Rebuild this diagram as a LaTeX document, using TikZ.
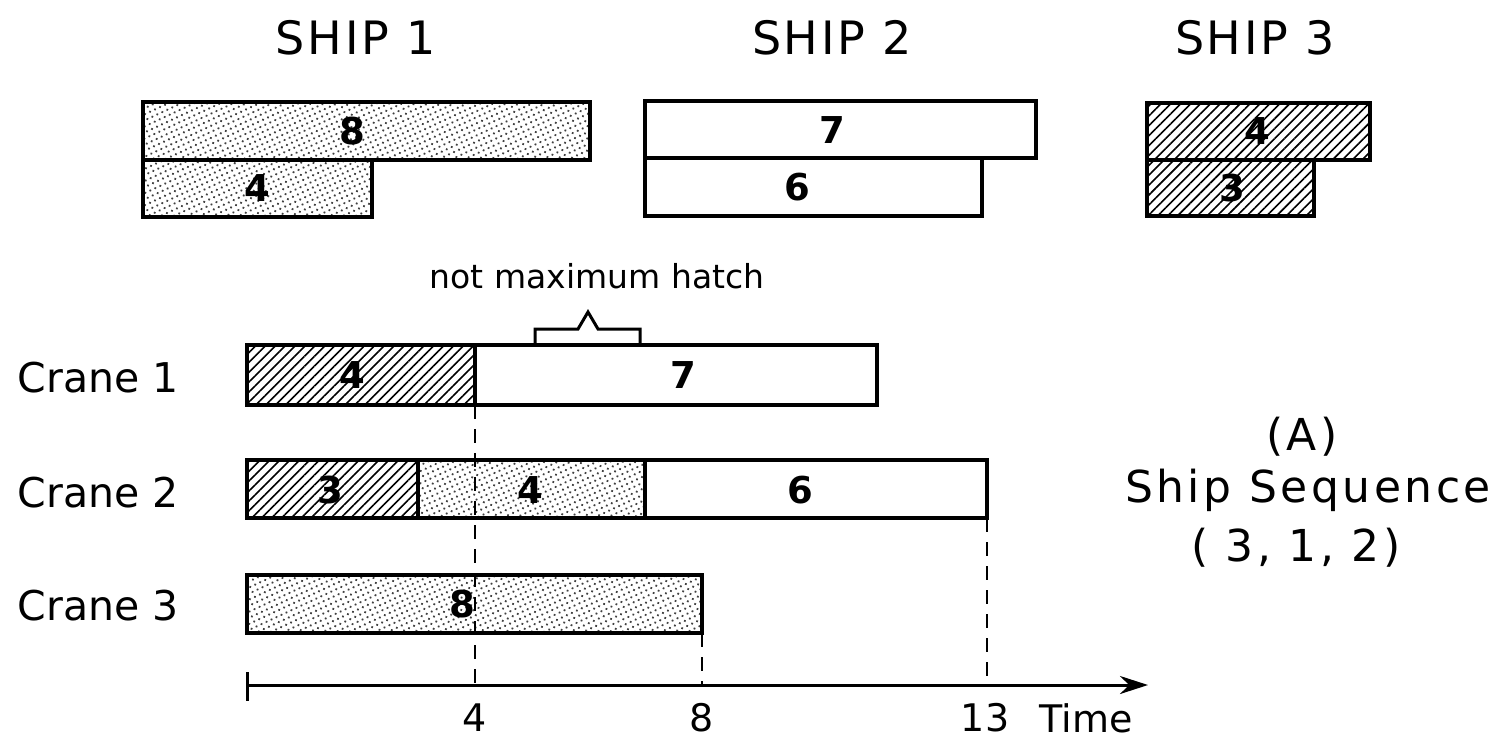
\documentclass[tikz,border=0pt]{standalone}
\usepackage{fontspec}
\setmainfont{DejaVu Sans}
\usetikzlibrary{patterns.meta,arrows.meta}
\newcommand\myfs[1]{\fontsize{#1}{#1}\selectfont}
\begin{document}
\begin{tikzpicture}[x=1pt,y=-1pt,
  box/.style={draw,line width=3.3pt,inner sep=0pt,outer sep=0pt,anchor=north west},
  stipple/.style={pattern={Dots[distance=5.5pt,radius=1.25pt,angle=25]},pattern color=black!75},
  hatched/.style={pattern={Lines[angle=45,distance=7pt,line width=1.6pt]}},
  num/.style={font=\myfs{37}\bfseries},
  title/.style={font=\myfs{46}\addfontfeature{LetterSpace=6}},
  lab/.style={font=\myfs{41},anchor=west},
  big/.style={font=\myfs{44}\addfontfeature{LetterSpace=8}},
  dashln/.style={line width=2.4pt,dash pattern=on 14pt off 10pt},
  axis/.style={line width=3pt}
]
\useasboundingbox (0,0) rectangle (1503,740);
% titles
\node[title] (t1) at (356,38) {SHIP 1};
\node[title] (t2) at (832,38) {SHIP 2};
\node[title] (t3) at (1255,38) {SHIP 3};
% ship 1
\node[box,stipple,minimum width=447pt,minimum height=58pt] (s1a) at (143,102) {};
\node[box,stipple,minimum width=229pt,minimum height=57pt] (s1b) at (143,160) {};
\node[num] (n1a) at (352,131) {8};
\node[num] (n1b) at (257,188) {4};
% ship 2
\node[box,minimum width=391pt,minimum height=57pt] (s2a) at (645,101) {};
\node[box,minimum width=337pt,minimum height=58pt] (s2b) at (645,158) {};
\node[num] (n2a) at (832,130) {7};
\node[num] (n2b) at (797,187) {6};
% ship 3
\node[box,hatched,minimum width=223pt,minimum height=57pt] (s3a) at (1147,103) {};
\node[box,hatched,minimum width=167pt,minimum height=56pt] (s3b) at (1147,160) {};
\node[num] (n3a) at (1257,131) {4};
\node[num] (n3b) at (1232,188) {3};
% crane labels
\node[lab] (cr1) at (14,378) {Crane 1};
\node[lab] (cr2) at (14,493) {Crane 2};
\node[lab] (cr3) at (14,606) {Crane 3};
% crane 1
\node[box,hatched,minimum width=228pt,minimum height=60pt] (c1a) at (247,345) {};
\node[box,minimum width=402pt,minimum height=60pt] (c1b) at (475,345) {};
\node[num] (m1a) at (352,375) {4};
\node[num] (m1b) at (683,375) {7};
% crane 2
\node[box,hatched,minimum width=171pt,minimum height=58pt] (c2a) at (247,460) {};
\node[box,stipple,minimum width=227pt,minimum height=58pt] (c2b) at (418,460) {};
\node[box,minimum width=342pt,minimum height=58pt] (c2c) at (645,460) {};
\node[num] (m2a) at (330,490) {3};
\node[num] (m2b) at (530,490) {4};
\node[num] (m2c) at (800,490) {6};
% crane 3
\node[box,stipple,minimum width=455pt,minimum height=58pt] (c3a) at (247,575) {};
\node[num] (m3a) at (462,604) {8};
% brace
\node[font=\myfs{33}] (nmh) at (597,276) {not maximum hatch};
\draw[line width=3pt,line join=miter] (535,345) -- (535,329) -- (578,329) -- (588,312) -- (598,329) -- (640,329) -- (640,345);
% axis
\coordinate (t0) at (247,685);
\coordinate (t4) at (475,685);
\coordinate (t8) at (702,685);
\coordinate (t13) at (987,685);
\coordinate (tend) at (1148,685);
\draw[axis,-{Stealth[length=28pt,width=18pt]}] (t0) -- (tend);
\draw[axis] ([yshift=13pt]t0) -- ([yshift=-16pt]t0);
\draw[dashln] (c1a.south east) -- (t4);
\draw[dashln] (c3a.south east) -- (t8);
\draw[dashln] (c2c.south east) -- (t13);
\node[font=\myfs{38}] (l4) at (475,718) {4};
\node[font=\myfs{38}] (l8) at (702,718) {8};
\node[font=\myfs{38}] (l13) at (985,718) {13};
\node[font=\myfs{38}] (ltime) at (1086,718) {Time};
% right text
\node[big] (pa) at (1302,437) {(A)};
\node[big] (ss) at (1308,490) {Ship Sequence};
\node[big] (seq) at (1296,548) {( 3, 1, 2)};
\end{tikzpicture}
\end{document}
